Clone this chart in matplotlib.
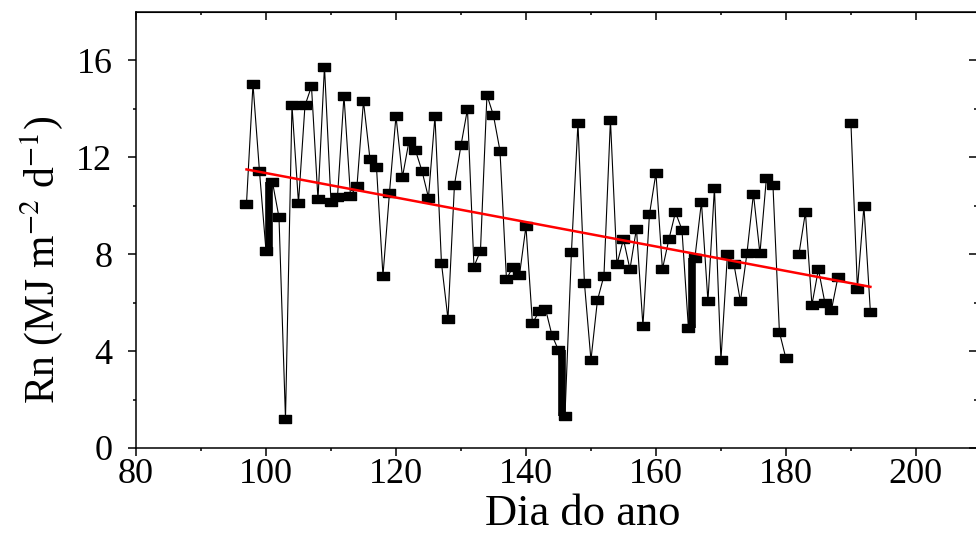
import numpy as np
import matplotlib.pyplot as plt

plt.rcParams["font.family"] = ["Liberation Serif", "DejaVu Serif"]
plt.rcParams["mathtext.fontset"] = "stix"

# Rn diario (MJ m-2 d-1), dias 97 a 193 (nan = sem dado)
dias = np.arange(97, 194)
rn = [10.09, 15.02, 11.42, 8.15, 10.97, 9.53, 1.21, 14.14, 10.12, 14.14,
      14.93, 10.27, 15.75, 10.17, 10.36, 14.54, 10.42, 10.81, 14.32, 11.93,
      11.60, 7.11, 10.54, 13.70, 11.19, 12.66, 12.29, 11.44, 10.34, 13.69,
      7.63, 5.33, 10.87, 12.49, 13.99, 7.49, 8.14, 14.57, 13.73, 12.28,
      6.97, 7.48, 7.13, 9.15, 5.14, 5.64, 5.75, 4.66, 4.04, 1.32,
      8.10, 13.42, 6.80, 3.63, 6.10, 7.11, 13.54, 7.59, 8.62, 7.38,
      9.06, 5.04, 9.64, 11.35, 7.39, 8.62, 9.73, 9.02, 4.94, 7.86,
      10.16, 6.06, 10.73, 3.63, 7.99, 7.59, 6.05, 8.03, 10.49, 8.03,
      11.16, 10.87, 4.78, 3.70, np.nan, 8.00, 9.73, 5.91, 7.38, 5.99,
      5.70, 7.05, np.nan, 13.42, 6.57, 9.98, 5.61]

# trechos verticais grossos (varios registros no mesmo dia)
barra_dia = [100.5, 145.5, 165.5]
barra_min = [8.15, 1.32, 4.94]
barra_max = [10.97, 4.04, 7.86]

# reta de tendencia
tend_inclinacao = -0.0505
tend_intercepto = 16.40
tend_dias = [97, 193]

rn = np.array(rn)
box = [(-1.5, -1), (1.5, -1), (1.5, 1), (-1.5, 1), (-1.5, -1)]

fig = plt.figure(figsize=(9.76, 5.36), dpi=100)
ax = fig.add_axes([136 / 976, 88 / 536, 841 / 976, 436 / 536])

ax.plot(dias, rn, color="black", lw=0.8, marker=box, markersize=8.8,
        markerfacecolor="black", markeredgecolor="black", zorder=3)
ax.vlines(barra_dia, barra_min, barra_max, color="black", lw=5.5, zorder=3)

xt = np.array(tend_dias)
ax.plot(xt, tend_intercepto + tend_inclinacao * xt, color="red", lw=1.8, zorder=4)

ax.set_xlim(80, 209.4)
ax.set_ylim(0, 18)
ax.set_xticks([80, 100, 120, 140, 160, 180, 200])
ax.set_xticks(np.arange(90, 210, 20), minor=True)
ax.set_yticks([0, 4, 8, 12, 16])
ax.set_yticks([2, 6, 10, 14], minor=True)

for s in ax.spines.values():
    s.set_linewidth(1.1)

ax.tick_params(axis="both", which="major", labelsize=26, width=1.1, length=6)
ax.tick_params(axis="both", which="minor", width=1.1, length=2.5)
ax.tick_params(axis="x", which="both", direction="out", top=False)
ax.tick_params(axis="y", which="both", direction="out", right=False)
ax.tick_params(axis="x", pad=1)
ax.tick_params(axis="y", pad=11)

# ticks espelhados para dentro no topo e na direita
ax2 = ax.secondary_xaxis("top")
ax2.set_xticks([80, 100, 120, 140, 160, 180, 200])
ax2.set_xticks(np.arange(90, 210, 20), minor=True)
ax2.tick_params(which="major", direction="in", length=6, width=1.1, labeltop=False)
ax2.tick_params(which="minor", direction="in", length=2.5, width=1.1)
ax3 = ax.secondary_yaxis("right")
ax3.set_yticks([0, 4, 8, 12, 16])
ax3.set_yticks([2, 6, 10, 14], minor=True)
ax3.tick_params(which="major", direction="in", length=6, width=1.1, labelright=False)
ax3.tick_params(which="minor", direction="in", length=2.5, width=1.1)

ax.set_xlabel("Dia do ano", fontsize=32)
ax.xaxis.set_label_coords(0.531, -0.105)
ax.set_ylabel(r"Rn (MJ m$^{-2}$ d$^{-1}$)", fontsize=30)
ax.yaxis.set_label_coords(-0.085, 0.431)

fig.savefig("out.png", dpi=100)
